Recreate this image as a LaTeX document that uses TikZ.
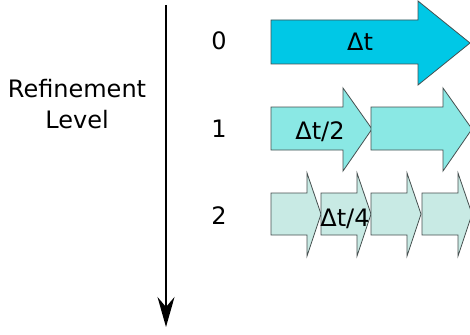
\documentclass[tikz,border=0pt]{standalone}
\usepackage{fontspec}
\setmainfont{DejaVu Sans}
\usetikzlibrary{arrows.meta}
\definecolor{lvlzero}{RGB}{0,200,230}
\definecolor{lvlone}{RGB}{138,232,228}
\definecolor{lvltwo}{RGB}{200,234,228}
\definecolor{edgegray}{RGB}{70,80,80}
\tikzset{
  blockarrow/.style={draw=edgegray, line width=0.8pt, line join=miter},
  lbl/.style={font=\fontsize{24}{30}\selectfont, inner sep=0pt, text=black},
}
\begin{document}
\begin{tikzpicture}[x=1pt,y=-1pt]
\useasboundingbox (0,0) rectangle (470,334);
% level 0
\filldraw[blockarrow, fill=lvlzero] (271,20) -- (418,20) -- (418,1) -- (470,43) -- (418,85) -- (418,64) -- (271,64) -- cycle;
% level 1
\foreach \x in {271,371}{
  \filldraw[blockarrow, fill=lvlone] (\x,107) -- (\x+72,107) -- (\x+72,88) -- (\x+101,129) -- (\x+72,171) -- (\x+72,150) -- (\x,150) -- cycle;
}
% level 2
\foreach \x in {271,321,371,422}{
  \filldraw[blockarrow, fill=lvltwo] (\x,193) -- (\x+36,193) -- (\x+36,173) -- (\x+50,214) -- (\x+36,256) -- (\x+36,235) -- (\x,235) -- cycle;
}
\node[lbl, anchor=base] (dt0) at (360,50.5) {Δt};
\node[lbl, anchor=base] (dt1) at (320,139) {Δt/2};
\node[lbl, anchor=base] (dt2) at (345,226) {Δt/4};
\node[lbl, anchor=base] (l0) at (219,50) {0};
\node[lbl, anchor=base] (l1) at (219,137) {1};
\node[lbl, anchor=base] (l2) at (219,224) {2};
\node[lbl, anchor=base] (title1) at (77,97.5) {Refinement};
\node[lbl, anchor=base] (title2) at (77,128) {Level};
\coordinate (axtop) at (166,5);
\coordinate (axbot) at (166,327);
\draw[line width=1.6pt, -{Stealth[length=30pt,width=17pt,inset=10pt]}] (axtop) -- (axbot);
\end{tikzpicture}
\end{document}
